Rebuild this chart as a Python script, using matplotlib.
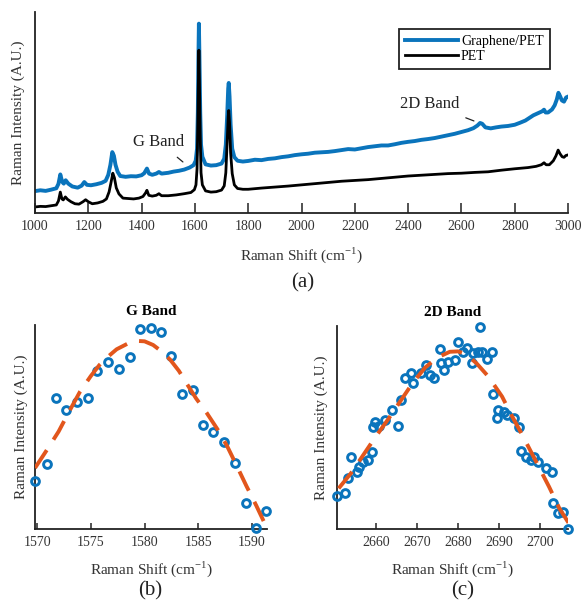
import matplotlib
matplotlib.use("Agg")
import matplotlib.pyplot as plt

plt.rcParams['font.family'] = ['Liberation Serif', 'DejaVu Serif']
plt.rcParams['mathtext.fontset'] = 'custom'
plt.rcParams['mathtext.rm'] = 'Liberation Serif'

BLUE = '#0A74BC'
ORANGE = '#E2561C'

# ---------------- Panel (a) spectra (relative intensity) ----------------
gpet_x = [1000, 1020, 1040, 1060, 1080, 1088, 1095, 1102, 1108, 1115, 1125, 1140, 1160, 1175,
          1185, 1195, 1210, 1230, 1250, 1265, 1275, 1283, 1290, 1296, 1302, 1310, 1320, 1340,
          1360, 1380, 1400, 1410, 1420, 1428, 1440, 1455, 1465, 1475, 1500, 1520, 1540, 1560,
          1580, 1595, 1603, 1608, 1611, 1613, 1615, 1617, 1620, 1623, 1628, 1640, 1660, 1680,
          1700, 1710, 1716, 1721, 1725, 1727, 1730, 1734, 1740, 1748, 1760, 1780, 1800, 1825,
          1850, 1875, 1900, 1925, 1950, 1975, 2000, 2025, 2050, 2075, 2100, 2125, 2150, 2175,
          2200, 2225, 2250, 2275, 2300, 2325, 2350, 2375, 2400, 2425, 2450, 2475, 2500, 2525,
          2550, 2575, 2600, 2625, 2645, 2660, 2670, 2678, 2690, 2710, 2730, 2750, 2775, 2800,
          2820, 2840, 2870, 2890, 2903, 2910, 2916, 2925, 2940, 2950, 2958, 2964, 2970, 2977,
          2985, 2993, 3000]
gpet_y = [10.9, 11.3, 11.0, 11.6, 12.3, 14.5, 19.2, 15.5, 14.6, 16.3, 14.6, 13.2, 12.6, 13.6,
          15.4, 14.0, 13.8, 14.3, 15.0, 16.0, 19.0, 24.0, 30.3, 28.5, 24.0, 20.5, 18.4, 18.0,
          18.3, 18.2, 18.8, 19.8, 22.1, 19.6, 19.0, 19.6, 20.4, 19.6, 20.0, 20.6, 21.0, 21.6,
          22.6, 23.8, 26.0, 32.0, 50.0, 75.0, 94.2, 78.0, 50.0, 34.0, 28.0, 24.2, 23.6, 23.8,
          24.6, 27.0, 34.0, 48.0, 62.0, 64.7, 58.0, 44.0, 32.0, 27.8, 26.0, 25.6, 25.9, 26.5,
          26.3, 26.9, 27.2, 27.8, 28.2, 28.8, 29.2, 29.5, 30.0, 30.2, 30.4, 30.8, 31.3, 31.8,
          31.6, 32.2, 32.8, 33.2, 33.6, 33.6, 34.2, 34.9, 35.4, 35.8, 36.4, 36.8, 37.3, 38.0,
          38.7, 39.4, 40.3, 41.2, 42.2, 43.5, 44.8, 44.4, 42.6, 42.1, 42.6, 43.0, 43.3, 43.9,
          44.9, 46.0, 48.6, 49.8, 50.6, 51.4, 50.0, 50.0, 51.5, 53.6, 56.5, 59.8, 58.2, 56.0,
          55.4, 57.5, 57.9]

pet_x = [1000, 1020, 1040, 1060, 1080, 1088, 1095, 1101, 1106, 1114, 1122, 1135, 1150, 1165,
         1180, 1190, 1200, 1215, 1235, 1255, 1268, 1278, 1285, 1292, 1298, 1305, 1315, 1330,
         1350, 1370, 1390, 1405, 1415, 1420, 1427, 1440, 1455, 1465, 1475, 1500, 1530, 1560,
         1585, 1598, 1604, 1608, 1611, 1613, 1615, 1617, 1620, 1623, 1628, 1640, 1660, 1680,
         1700, 1710, 1716, 1721, 1725, 1727, 1730, 1734, 1740, 1748, 1760, 1780, 1800, 1850,
         1900, 1950, 2000, 2050, 2100, 2150, 2200, 2250, 2300, 2350, 2400, 2450, 2500, 2550,
         2600, 2650, 2700, 2750, 2800, 2850, 2880, 2900, 2910, 2918, 2930, 2945, 2955, 2963,
         2970, 2978, 2985, 2992, 3000]
pet_y = [3.0, 3.3, 3.2, 3.6, 4.0, 6.0, 10.4, 7.0, 6.5, 8.0, 6.8, 5.6, 4.6, 4.4,
         5.6, 6.6, 5.6, 4.6, 5.0, 5.8, 7.0, 10.5, 15.0, 19.8, 17.5, 12.5, 9.5, 7.4,
         7.2, 7.0, 7.4, 8.2, 10.0, 11.3, 8.8, 8.4, 8.8, 9.6, 8.6, 8.6, 9.0, 9.6,
         10.2, 11.6, 14.0, 22.0, 45.0, 65.0, 81.0, 66.0, 38.0, 20.0, 14.0, 11.0, 10.4, 10.6,
         11.4, 13.5, 20.0, 35.0, 48.0, 51.0, 45.0, 30.0, 19.6, 14.0, 12.2, 11.8, 11.8, 12.4,
         12.9, 13.4, 14.0, 14.6, 15.2, 15.8, 16.2, 16.6, 17.2, 17.8, 18.4, 18.8, 19.2, 19.6,
         19.8, 20.2, 20.5, 21.3, 22.0, 22.6, 23.2, 24.0, 25.0, 24.0, 24.0, 26.0, 28.5, 31.3,
         29.5, 28.0, 27.7, 28.6, 28.9]

a_xticks = [1000, 1200, 1400, 1600, 1800, 2000, 2200, 2400, 2600, 2800, 3000]
legend_labels = ['Graphene/PET', 'PET']

# ---------------- Panel (b) G band ----------------
g_x = [1569.8, 1570.9, 1571.8, 1572.7, 1573.7, 1574.7, 1575.6, 1576.6, 1577.6, 1578.6,
       1579.6, 1580.6, 1581.5, 1582.5, 1583.5, 1584.5, 1585.4, 1586.4, 1587.4, 1588.4,
       1589.4, 1590.4, 1591.3]
g_y = [23.3, 31.8, 64.4, 58.1, 62.2, 64.4, 77.5, 82.1, 78.3, 84.2,
       98.0, 98.7, 96.4, 84.8, 66.1, 67.9, 51.1, 47.5, 42.6, 32.5,
       12.6, 0.3, 9.0]
gfit_x = [1569.8, 1571.0, 1572.0, 1573.0, 1574.0, 1575.0, 1575.8, 1576.6, 1577.4, 1578.4,
          1579.3, 1580.0, 1580.8, 1581.6, 1582.4, 1583.2, 1583.9, 1584.8, 1585.8, 1586.8,
          1587.7, 1588.6, 1589.5, 1590.4, 1591.2]
gfit_y = [29.9, 39.5, 47.8, 57.8, 67.4, 75.0, 80.4, 84.5, 88.1, 90.8,
          92.2, 92.0, 90.2, 87.0, 82.9, 77.5, 71.5, 64.0, 56.8, 48.8,
          40.5, 30.8, 20.9, 11.5, 2.6]
b_xticks = [1570, 1575, 1580, 1585, 1590]

# ---------------- Panel (c) 2D band ----------------
d_x = [2650.6, 2652.5, 2653.3, 2654.1, 2655.4, 2656.0, 2657.0, 2658.2, 2659.0, 2659.3,
       2659.8, 2660.9, 2662.3, 2663.9, 2665.5, 2666.2, 2667.1, 2668.6, 2669.0, 2671.0,
       2672.3, 2673.2, 2674.2, 2675.7, 2675.9, 2676.7, 2677.5, 2679.2, 2680.0, 2681.2,
       2682.1, 2683.3, 2683.7, 2684.9, 2685.3, 2685.9, 2687.0, 2688.2, 2688.6, 2689.4,
       2689.7, 2691.1, 2691.9, 2693.5, 2694.7, 2695.4, 2696.4, 2697.6, 2698.4, 2699.3,
       2701.3, 2702.9, 2703.1, 2704.2, 2705.6, 2706.7]
d_y = [16.3, 17.6, 25.0, 35.6, 28.2, 30.7, 33.2, 34.0, 38.1, 50.4,
       52.9, 50.7, 53.7, 58.6, 50.7, 63.5, 74.2, 76.7, 71.8, 76.7,
       80.8, 75.9, 74.2, 88.5, 81.6, 78.3, 82.4, 83.3, 92.3, 87.3,
       89.0, 81.6, 86.5, 87.3, 99.3, 87.3, 83.6, 87.0, 66.5, 54.5,
       58.6, 57.8, 56.2, 54.5, 50.4, 38.6, 35.6, 34.0, 35.6, 33.2,
       29.9, 28.2, 12.7, 7.7, 8.5, 0.0]
dfit_x = [2651.0, 2654.0, 2657.0, 2660.0, 2663.0, 2666.0, 2669.0, 2672.0, 2675.0, 2678.0,
          2680.0, 2682.0, 2684.5, 2687.4, 2690.7, 2693.0, 2695.6, 2699.0, 2702.1, 2704.6,
          2706.9]
dfit_y = [20.0, 27.5, 36.5, 45.5, 54.0, 63.0, 72.0, 79.5, 84.5, 87.3,
          87.5, 86.0, 81.6, 75.0, 65.2, 56.0, 46.3, 33.0, 20.8, 10.2,
          2.8]
c_xticks = [2660, 2670, 2680, 2690, 2700]

# ---------------- Figure ----------------
W, H = 582, 604
fig = plt.figure(figsize=(W / 100, H / 100), dpi=100)


def style(ax, ticklen):
    for s in ('top', 'right'):
        ax.spines[s].set_visible(False)
    for s in ('left', 'bottom'):
        ax.spines[s].set_linewidth(1.3)
        ax.spines[s].set_color('#222222')
    ax.set_yticks([])
    ax.tick_params(axis='x', direction='in', length=ticklen, width=1.1,
                   labelsize=10, pad=5, colors='#222222', labelcolor='#333333')


def frac(x0, y0, x1, y1):
    return [x0 / W, 1 - y1 / H, (x1 - x0) / W, (y1 - y0) / H]


# (a)
axa = fig.add_axes(frac(35, 12, 568, 213))
axa.plot(gpet_x, gpet_y, color=BLUE, lw=2.8, label=legend_labels[0], solid_joinstyle='round')
axa.plot(pet_x, pet_y, color='black', lw=2.0, label=legend_labels[1], solid_joinstyle='round')
axa.set_xlim(1000, 3000)
axa.set_ylim(0, 100)
axa.set_xticks(a_xticks)
style(axa, 7)
axa.set_xlabel('Raman Shift (cm$^{-1}$)', fontsize=11, color='#333333')
axa.xaxis.set_label_coords(0.5, -0.162)
axa.set_ylabel('Raman Intensity (A.U.)', fontsize=11, color='#333333')
axa.yaxis.set_label_coords(-0.019, 0.5)
leg = axa.legend(loc='upper right', bbox_to_anchor=(0.966, 0.915), borderaxespad=0,
                 fontsize=10, handlelength=3.8, handletextpad=0.25, labelspacing=0.1,
                 borderpad=0.45, fancybox=False, framealpha=1)
leg.get_frame().set_edgecolor('#222222')
leg.get_frame().set_linewidth(1.3)
axa.annotate('G Band', xy=(1555, 25.4), xytext=(1465, 35.3), fontsize=12,
             ha='center', va='center', color='#222222',
             arrowprops=dict(arrowstyle='-', color='#222222', lw=0.9, shrinkA=5, shrinkB=0))
axa.annotate('2D Band', xy=(2647, 45.8), xytext=(2482, 54.2), fontsize=12,
             ha='center', va='center', color='#222222',
             arrowprops=dict(arrowstyle='-', color='#222222', lw=0.9, shrinkA=6, shrinkB=0))
fig.text(303 / W, 1 - 283 / H, '(a)', fontsize=15, ha='center', va='center', color='#222222')

# (b)
axb = fig.add_axes(frac(35, 325, 267, 529))
axb.plot(g_x, g_y, linestyle='none', marker='o', ms=5.6, mew=2.1, mfc='none', mec=BLUE,
         clip_on=False, zorder=3)
axb.plot(gfit_x, gfit_y, color=ORANGE, lw=2.8, dashes=(5.5, 3.2), zorder=4,
         solid_capstyle='butt', dash_capstyle='butt')
axb.set_xlim(1569.8, 1591.4)
axb.set_ylim(0, 100)
axb.set_xticks(b_xticks)
style(axb, 4)
axb.set_title('G Band', fontsize=11, fontweight='bold', pad=7)
axb.set_xlabel('Raman Shift (cm$^{-1}$)', fontsize=11, color='#333333')
axb.xaxis.set_label_coords(0.5, -0.15)
axb.set_ylabel('Raman Intensity (A.U.)', fontsize=11, color='#333333')
axb.yaxis.set_label_coords(-0.03, 0.5)
fig.text(150 / W, 1 - 591 / H, '(b)', fontsize=15, ha='center', va='center', color='#222222')

# (c)
axc = fig.add_axes(frac(337, 326, 568, 529))
axc.plot(d_x, d_y, linestyle='none', marker='o', ms=5.6, mew=2.1, mfc='none', mec=BLUE,
         clip_on=False, zorder=3)
axc.plot(dfit_x, dfit_y, color=ORANGE, lw=2.8, dashes=(5.5, 3.2), zorder=4,
         dash_capstyle='butt')
axc.set_xlim(2650.6, 2706.7)
axc.set_ylim(0, 100)
axc.set_xticks(c_xticks)
style(axc, 4)
axc.set_title('2D Band', fontsize=11, fontweight='bold', pad=7)
axc.set_xlabel('Raman Shift (cm$^{-1}$)', fontsize=11, color='#333333')
axc.xaxis.set_label_coords(0.5, -0.15)
axc.set_ylabel('Raman Intensity (A.U.)', fontsize=11, color='#333333')
axc.yaxis.set_label_coords(-0.039, 0.5)
fig.text(463 / W, 1 - 591 / H, '(c)', fontsize=15, ha='center', va='center', color='#222222')

fig.savefig('out.png', dpi=100)
